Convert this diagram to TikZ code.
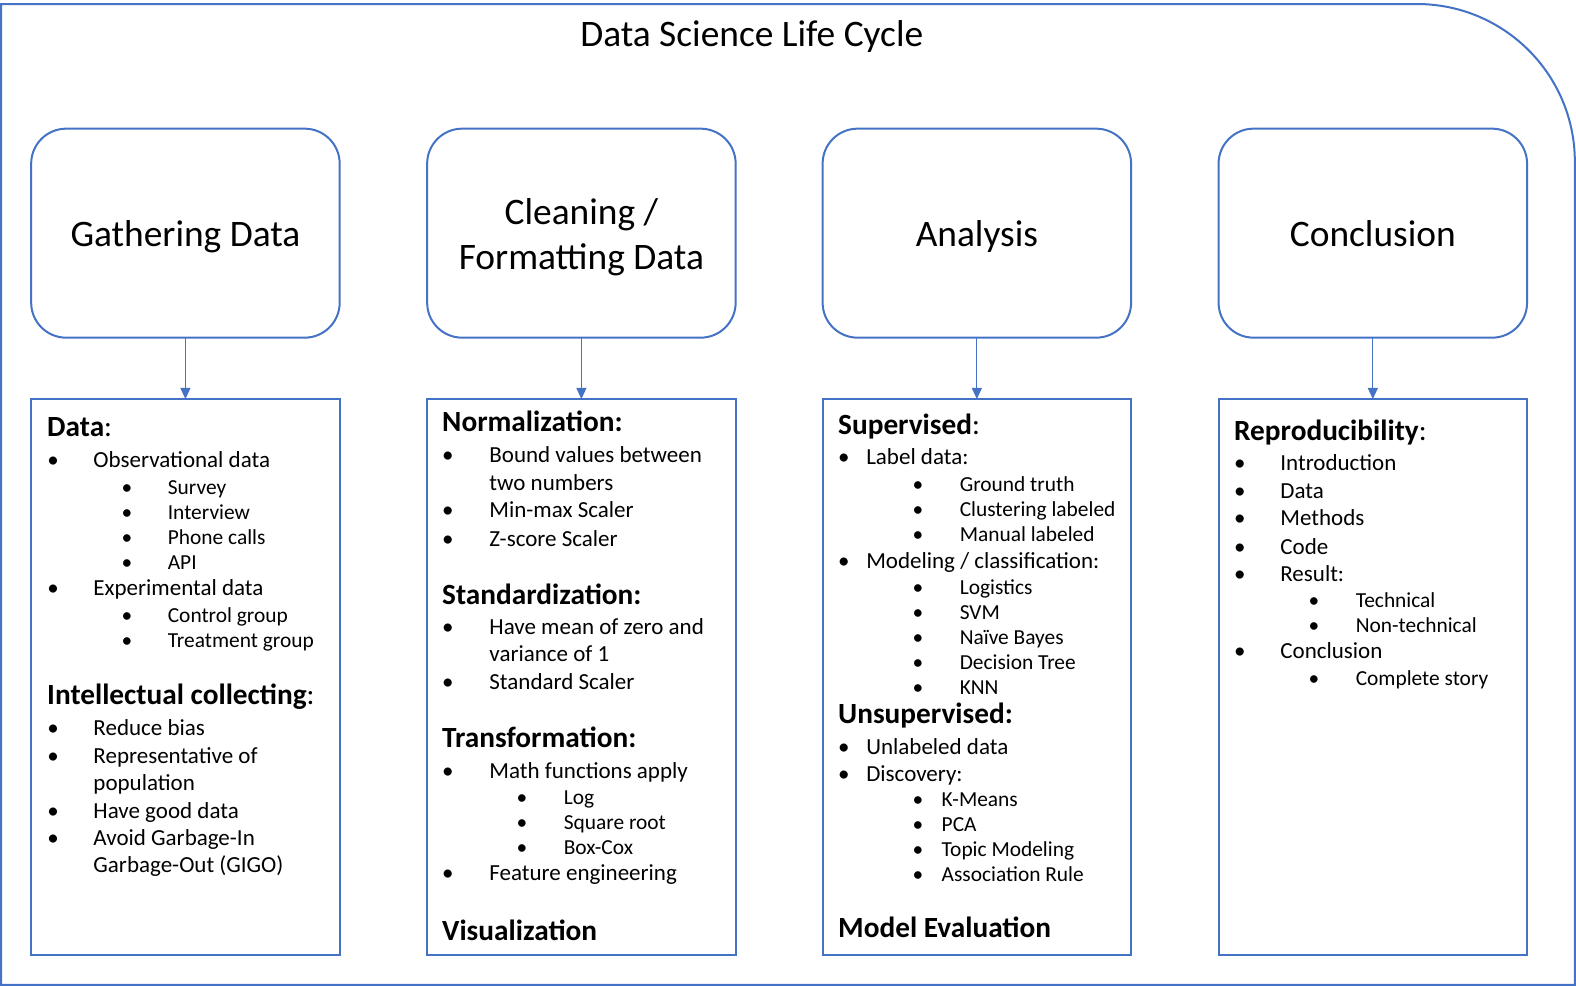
\documentclass[tikz,border=0pt]{standalone}
\usepackage{fontspec}
\setmainfont{Carlito}
\usetikzlibrary{arrows.meta}
\definecolor{frameblue}{HTML}{4472C4}
\newcommand\HD[4]{\node[hdr] (#1) at (#2,#3) {#4};}
\newcommand\MI[5]{\node[itm,xshift=-4pt] (#1b) at (#2,#4) {•};\node[itm] (#1) at (#3,#4) {#5};}
\newcommand\MC[4]{\node[itm] (#1) at (#2,#3) {#4};}
\newcommand\SI[5]{\node[sbi,xshift=-4pt] (#1b) at (#2,#4) {•};\node[sbi] (#1) at (#3,#4) {#5};}
\begin{document}
\begin{tikzpicture}[x=1.005pt,y=-1.005pt,
  every node/.style={inner sep=0pt,outer sep=0pt},
  topbox/.style={draw=frameblue,line width=2pt,rounded corners=35pt,minimum width=308.5pt,minimum height=209pt},
  toplbl/.style={align=center,font=\fontsize{37.4}{45}\selectfont},
  botbox/.style={draw=frameblue,line width=2pt,minimum width=308.5pt,minimum height=555.8pt},
  hdr/.style={anchor=mid west,yshift=-6pt,font=\fontsize{29.3}{34}\selectfont\bfseries},
  itm/.style={anchor=mid west,yshift=-6pt,font=\fontsize{23}{28}\selectfont},
  sbi/.style={anchor=mid west,yshift=-6pt,font=\fontsize{21.4}{26}\selectfont},
  conn/.style={draw=frameblue,line width=1pt,-{Triangle[width=10pt,length=11pt]}}]
\useasboundingbox (0,0) rectangle (1568.16,981.09);
% outer frame
\draw[frameblue,line width=2pt] (1,4) -- (1410,4) arc[start angle=-90,end angle=0,radius=157] -- (1567,980) -- (1,980) -- cycle;
\node[font=\fontsize{37.4}{42}\selectfont] (title) at (748,36) {Data Science Life Cycle};
% top boxes
\node[topbox] (t1) at (184.5,232) {};
\node[topbox] (t2) at (578.5,232) {};
\node[topbox] (t3) at (972,232) {};
\node[topbox] (t4) at (1366,232) {};
\node[toplbl] (t1l) at (184.5,236) {Gathering Data};
\node[toplbl] (t2l) at (578.5,236) {Cleaning /\\Formatting Data};
\node[toplbl] (t3l) at (972,235) {Analysis};
\node[toplbl] (t4l) at (1366,232) {Conclusion};
% bottom boxes
\node[botbox] (b1) at (184.5,673.5) {};
\node[botbox] (b2) at (578.5,673.5) {};
\node[botbox] (b3) at (972,673.5) {};
\node[botbox] (b4) at (1366,673.5) {};
\foreach \i in {1,2,3,4} {\draw[conn] (t\i.south) -- (b\i.north);}
% column 1
\HD{c1h1}{47}{426}{Data\mdseries:}
\MI{c1a}{51}{93}{457}{Observational data}
\SI{c1a1}{125}{167}{484}{Survey}
\SI{c1a2}{125}{167}{509}{Interview}
\SI{c1a3}{125}{167}{533}{Phone calls}
\SI{c1a4}{125}{167}{558}{API}
\MI{c1b}{51}{93}{584}{Experimental data}
\SI{c1b1}{125}{167}{611}{Control group}
\SI{c1b2}{125}{167}{636}{Treatment group}
\HD{c1h2}{47}{693}{Intellectual collecting\mdseries:}
\MI{c1c}{51}{93}{723}{Reduce bias}
\MI{c1d}{51}{93}{751}{Representative of}
\MC{c1d2}{93}{778}{population}
\MI{c1e}{51}{93}{806}{Have good data}
\MI{c1f}{51}{93}{833}{Avoid Garbage-In}
\MC{c1f2}{93}{860}{Garbage-Out (GIGO)}
% column 2
\HD{c2h1}{440}{421}{Normalization:}
\MI{c2a}{444}{487}{452}{Bound values between}
\MC{c2a2}{487}{480}{two numbers}
\MI{c2b}{444}{487}{507}{Min-max Scaler}
\MI{c2c}{444}{487}{535}{Z-score Scaler}
\HD{c2h2}{440}{593}{Standardization:}
\MI{c2d}{444}{487}{623}{Have mean of zero and}
\MC{c2d2}{487}{650}{variance of 1}
\MI{c2e}{444}{487}{678}{Standard Scaler}
\HD{c2h3}{440}{735}{Transformation:}
\MI{c2f}{444}{487}{766}{Math functions apply}
\SI{c2f1}{518}{561}{792}{Log}
\SI{c2f2}{518}{561}{817}{Square root}
\SI{c2f3}{518}{561}{842}{Box-Cox}
\MI{c2g}{444}{487}{868}{Feature engineering}
\HD{c2h4}{440}{927}{Visualization}
% column 3
\HD{c3h1}{834}{424}{Supervised\mdseries:}
\MI{c3a}{838}{862}{454}{Label data:}
\SI{c3a1}{912}{955}{481}{Ground truth}
\SI{c3a2}{912}{955}{506}{Clustering labeled}
\SI{c3a3}{912}{955}{530}{Manual labeled}
\MI{c3b}{838}{862}{557}{Modeling / classification:}
\SI{c3b1}{912}{955}{583}{Logistics}
\SI{c3b2}{912}{955}{608}{SVM}
\SI{c3b3}{912}{955}{633}{Naïve Bayes}
\SI{c3b4}{912}{955}{658}{Decision Tree}
\SI{c3b5}{912}{955}{683}{KNN}
\HD{c3h2}{834}{712}{Unsupervised:}
\MI{c3c}{838}{862}{742}{Unlabeled data}
\MI{c3d}{838}{862}{769}{Discovery:}
\SI{c3d1}{912}{937}{794}{K-Means}
\SI{c3d2}{912}{937}{819}{PCA}
\SI{c3d3}{912}{937}{844}{Topic Modeling}
\SI{c3d4}{912}{937}{869}{Association Rule}
\HD{c3h3}{834}{924}{Model Evaluation}
% column 4
\HD{c4h1}{1228}{430}{Reproducibility\mdseries:}
\MI{c4a}{1232}{1274}{460}{Introduction}
\MI{c4b}{1232}{1274}{488}{Data}
\MI{c4c}{1232}{1274}{515}{Methods}
\MI{c4d}{1232}{1274}{543}{Code}
\MI{c4e}{1232}{1274}{570}{Result:}
\SI{c4e1}{1306}{1349}{596}{Technical}
\SI{c4e2}{1306}{1349}{621}{Non-technical}
\MI{c4f}{1232}{1274}{647}{Conclusion}
\SI{c4f1}{1306}{1349}{674}{Complete story}
\end{tikzpicture}
\end{document}
